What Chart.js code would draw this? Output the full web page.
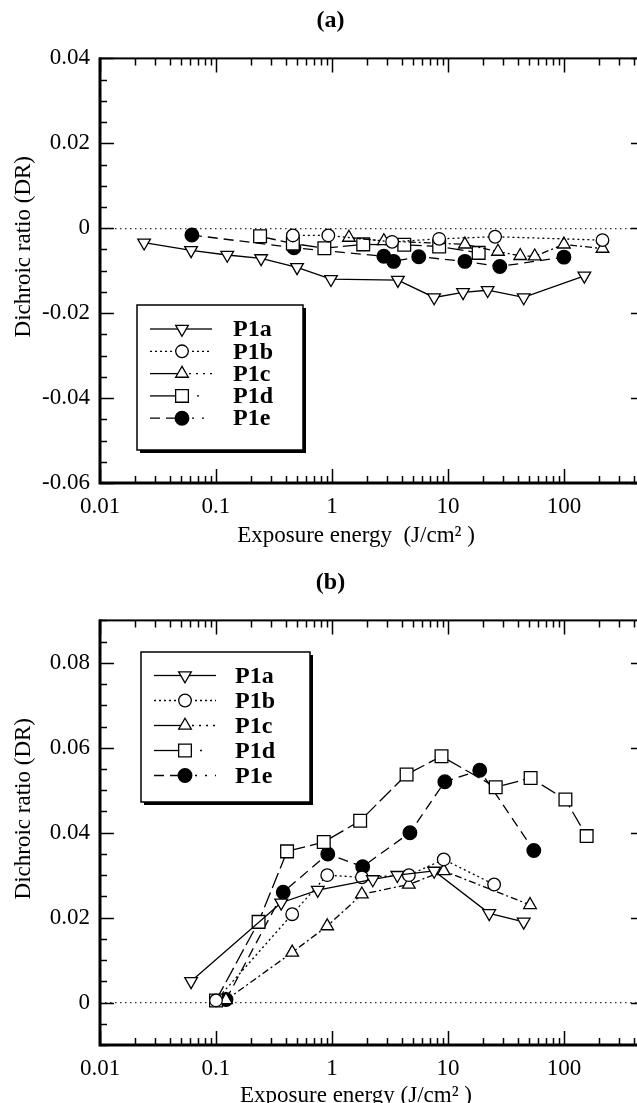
<!DOCTYPE html>
<html>
<head>
<meta charset="utf-8">
<script src="https://cdn.jsdelivr.net/npm/chart.js@4/dist/chart.umd.min.js"></script>
<style>
  html, body { margin: 0; padding: 0; background: #fff; overflow: hidden; width: 637px; height: 1103px; }
  .panel { position: absolute; left: 0; width: 660px; height: 560px; }
  #panelA { top: 0; }
  #panelB { top: 562px; }
</style>
</head>
<body>
<div class="panel" id="panelA"><canvas id="chartA"></canvas></div>
<div class="panel" id="panelB"><canvas id="chartB"></canvas></div>
<script>
// ---- data, panel (a) ----
const seriesNames = ["P1a", "P1b", "P1c", "P1d", "P1e"];

const a_P1a_x = [0.024, 0.061, 0.125, 0.245, 0.5, 0.98, 3.7, 7.6, 13.5, 22, 45, 150];
const a_P1a_y = [-0.0034, -0.0052, -0.0063, -0.0071, -0.0092, -0.012, -0.0122, -0.0163, -0.0151, -0.0146, -0.0163, -0.0112];
const a_P1b_x = [0.46, 0.93, 3.3, 8.4, 25.5, 215];
const a_P1b_y = [-0.0017, -0.0017, -0.0032, -0.0025, -0.002, -0.0028];
const a_P1c_x = [1.4, 2.8, 14, 27, 42, 56, 100, 215];
const a_P1c_y = [-0.0022, -0.003, -0.0038, -0.0055, -0.0065, -0.0066, -0.0038, -0.0048];
const a_P1d_x = [0.24, 0.46, 0.86, 1.86, 4.2, 8.4, 18.4];
const a_P1d_y = [-0.0019, -0.0036, -0.0047, -0.0038, -0.0039, -0.0043, -0.0058];
const a_P1e_x = [0.062, 0.47, 2.8, 3.4, 5.6, 14, 28, 100];
const a_P1e_y = [-0.0016, -0.0046, -0.0066, -0.0078, -0.0067, -0.0078, -0.009, -0.0068];

// ---- data, panel (b) ----
const b_P1a_x = [0.061, 0.365, 0.755, 2.25, 3.66, 7.6, 22.7, 45];
const b_P1a_y = [0.005, 0.0235, 0.0265, 0.029, 0.03, 0.031, 0.021, 0.019];
const b_P1b_x = [0.1, 0.454, 0.91, 1.81, 4.6, 9.2, 25];
const b_P1b_y = [0.0005, 0.0208, 0.03, 0.0295, 0.03, 0.0337, 0.0278];
const b_P1c_x = [0.122, 0.454, 0.91, 1.81, 4.6, 9.2, 51];
const b_P1c_y = [0.0006, 0.0118, 0.018, 0.0255, 0.0278, 0.031, 0.023];
const b_P1d_x = [0.1, 0.233, 0.41, 0.85, 1.75, 4.4, 8.8, 25.8, 51.6, 103, 157];
const b_P1d_y = [0.0005, 0.019, 0.0356, 0.0378, 0.0428, 0.0537, 0.058, 0.0507, 0.0529, 0.0478, 0.0392];
const b_P1e_x = [0.122, 0.38, 0.92, 1.84, 4.7, 9.4, 18.8, 55];
const b_P1e_y = [0.0007, 0.026, 0.035, 0.032, 0.04, 0.052, 0.0547, 0.0358];

// ---- axes ----
const xTickVals = [0.01, 0.1, 1, 10, 100];
const xTickLabels = ["0.01", "0.1", "1", "10", "100"];
const yTickValsA = [0.04, 0.02, 0, -0.02, -0.04, -0.06];
const yTickLabelsA = ["0.04", "0.02", "0", "-0.02", "-0.04", "-0.06"];
const yTickValsB = [0.08, 0.06, 0.04, 0.02, 0];
const yTickLabelsB = ["0.08", "0.06", "0.04", "0.02", "0"];
const yTitle = "Dichroic ratio (DR)";

const SERIF = "'Liberation Serif', 'Times New Roman', serif";
Chart.defaults.font.family = SERIF;
Chart.defaults.color = "#000";

const styles = [
  { pointStyle: "triangle", rotation: 180, radius: 7.3, fill: "#fff", dash: [], legendDash: [[], []] },
  { pointStyle: "circle", rotation: 0, radius: 6.3, fill: "#fff", dash: [2, 3], legendDash: [[2, 3], [2, 3]] },
  { pointStyle: "triangle", rotation: 0, radius: 7.3, fill: "#fff", dash: [7, 3, 2, 3], legendDash: [[], [2, 5]] },
  { pointStyle: "rect", rotation: 0, radius: 9, fill: "#fff", dash: [16, 5], legendDash: [[], [7, 8, 2, 20]] },
  { pointStyle: "circle", rotation: 0, radius: 6.8, fill: "#000", dash: [10, 6], legendDash: [[10, 6], [2, 8]] }
];

function makeDatasets(xs, ys) {
  return xs.map((xArr, k) => ({
    label: seriesNames[k],
    data: xArr.map((x, i) => ({ x: x, y: ys[k][i] })),
    showLine: true,
    borderColor: "#000",
    borderWidth: 1.3,
    borderDash: styles[k].dash,
    pointStyle: styles[k].pointStyle,
    pointRotation: styles[k].rotation,
    pointRadius: styles[k].radius,
    pointBackgroundColor: styles[k].fill,
    pointBorderColor: "#000",
    pointBorderWidth: 1.3
  }));
}

// frame with inward ticks on all four sides, plus axis titles
const frameTicks = {
  id: "frameTicks",
  afterDatasetsDraw(chart, args, o) {
    const ctx = chart.ctx;
    const a = chart.chartArea;
    const xs = chart.scales.x, ys = chart.scales.y;
    ctx.save();
    ctx.strokeStyle = "#000";
    ctx.setLineDash([]);
    ctx.lineWidth = 2;
    ctx.strokeRect(a.left, a.top, a.right - a.left, a.bottom - a.top);
    ctx.lineWidth = 3;
    ctx.beginPath();
    ctx.moveTo(a.left, a.top - 1);
    ctx.lineTo(a.left, a.bottom);
    ctx.lineTo(a.right + 1, a.bottom);
    ctx.stroke();
    ctx.lineWidth = 1.5;
    ctx.beginPath();
    const n = Math.round((ys.max - ys.min) / 0.005);
    for (let i = 0; i <= n; i++) {
      const v = ys.min + i * 0.005;
      const major = Math.abs(v / 0.02 - Math.round(v / 0.02)) < 1e-6;
      const len = major ? 14 : 7;
      const py = Math.round(ys.getPixelForValue(v)) + 0.5;
      ctx.moveTo(a.left, py); ctx.lineTo(a.left + len, py);
      ctx.moveTo(a.right, py); ctx.lineTo(a.right - len, py);
    }
    for (let d = -2; d <= 2; d++) {
      for (let k = 1; k <= 9; k++) {
        const v = k * Math.pow(10, d);
        if (v > xs.max * 1.0001) break;
        const len = k === 1 ? 14 : 7;
        const px = Math.round(xs.getPixelForValue(v)) + 0.5;
        ctx.moveTo(px, a.bottom); ctx.lineTo(px, a.bottom - len);
        ctx.moveTo(px, a.top); ctx.lineTo(px, a.top + len);
      }
    }
    ctx.stroke();

    // axis titles
    ctx.fillStyle = "#000";
    ctx.font = "23px " + SERIF;
    ctx.textAlign = "center";
    ctx.textBaseline = "middle";
    ctx.fillText(o.xTitle, a.left + 256, a.bottom + o.xTitleDy);
    ctx.translate(24, (a.top + a.bottom) / 2 - 24);
    ctx.rotate(-Math.PI / 2);
    ctx.fillText(yTitle, 0, 0);
    ctx.restore();
  }
};

// boxed legend with drop shadow, drawn inside the plot
const boxLegend = {
  id: "boxLegend",
  afterDraw(chart, args, o) {
    const ctx = chart.ctx;
    ctx.save();
    ctx.fillStyle = "#000";
    ctx.fillRect(o.x + 3, o.y + 3, o.w, o.h);
    ctx.fillStyle = "#fff";
    ctx.fillRect(o.x, o.y, o.w, o.h);
    ctx.lineWidth = 1.5;
    ctx.strokeStyle = "#000";
    ctx.strokeRect(o.x, o.y, o.w, o.h);
    chart.data.datasets.forEach((ds, k) => {
      const y = o.rowY + k * o.rowStep;
      const st = styles[k];
      ctx.lineWidth = 1.3;
      ctx.setLineDash(st.legendDash[0]);
      ctx.beginPath(); ctx.moveTo(o.lineX0, y); ctx.lineTo(o.markX, y); ctx.stroke();
      ctx.setLineDash(st.legendDash[1]);
      ctx.beginPath(); ctx.moveTo(o.markX, y); ctx.lineTo(o.lineX1, y); ctx.stroke();
      ctx.setLineDash([]);
      ctx.fillStyle = st.fill;
      ctx.strokeStyle = "#000";
      Chart.helpers.drawPoint(ctx, { pointStyle: st.pointStyle, rotation: st.rotation, radius: st.radius, borderWidth: 1.3 }, o.markX, y);
      ctx.fillStyle = "#000";
      ctx.font = "bold 24px " + SERIF;
      ctx.textBaseline = "middle";
      ctx.textAlign = "left";
      ctx.fillText(ds.label, o.textX, y + 1);
    });
    ctx.restore();
  }
};

function makeChart(id, title, xTitle, xTitleDy, yMin, yMax, yVals, yLabels, datasets, legendOpts) {
  return new Chart(document.getElementById(id), {
    type: "scatter",
    data: { datasets: datasets },
    plugins: [frameTicks, boxLegend],
    options: {
      responsive: true,
      maintainAspectRatio: false,
      animation: false,
      layout: { padding: { left: 16, right: 15, top: 0, bottom: 0 } },
      plugins: {
        legend: { display: false },
        tooltip: { enabled: false },
        title: {
          display: true,
          text: title,
          color: "#000",
          font: { size: 24, weight: "bold" },
          padding: { top: 6, bottom: 23.6 }
        },
        frameTicks: { xTitle: xTitle, xTitleDy: xTitleDy },
        boxLegend: legendOpts
      },
      scales: {
        x: {
          type: "logarithmic",
          min: 0.01,
          max: 500,
          afterBuildTicks: (s) => { s.ticks = xTickVals.map((v) => ({ value: v, major: true })); },
          afterFit: (s) => { s.height = 77; },
          grid: { display: false, drawTicks: false },
          border: { display: false },
          ticks: {
            autoSkip: false,
            maxRotation: 0,
            padding: 10,
            font: { size: 23 },
            callback: (v) => xTickLabels[xTickVals.indexOf(v)] ?? ""
          }
        },
        y: {
          min: yMin,
          max: yMax,
          afterBuildTicks: (s) => { s.ticks = yVals.map((v) => ({ value: v })); },
          afterFit: (s) => { s.width = 84; },
          grid: {
            drawTicks: false,
            lineWidth: 1.2,
            color: (c) => (c.tick && Math.abs(c.tick.value) < 1e-9 ? "#333" : "rgba(0,0,0,0)")
          },
          border: { display: false, dash: [1.5, 3.5] },
          ticks: {
            padding: 10,
            font: { size: 23 },
            callback: (v) => { const i = yVals.findIndex((t) => Math.abs(t - v) < 1e-9); return i >= 0 ? yLabels[i] : ""; }
          }
        }
      }
    }
  });
}

makeChart("chartA", "(a)", "Exposure energy  (J/cm² )", 53, -0.06, 0.04, yTickValsA, yTickLabelsA,
  makeDatasets([a_P1a_x, a_P1b_x, a_P1c_x, a_P1d_x, a_P1e_x], [a_P1a_y, a_P1b_y, a_P1c_y, a_P1d_y, a_P1e_y]),
  { x: 137, y: 305, w: 166, h: 145, rowY: 329, rowStep: 22.3, lineX0: 150, lineX1: 212, markX: 182, textX: 233 });

makeChart("chartB", "(b)", "Exposure energy (J/cm² )", 51, -0.01, 0.09, yTickValsB, yTickLabelsB,
  makeDatasets([b_P1a_x, b_P1b_x, b_P1c_x, b_P1d_x, b_P1e_x], [b_P1a_y, b_P1b_y, b_P1c_y, b_P1d_y, b_P1e_y]),
  { x: 141, y: 90, w: 169, h: 150, rowY: 113.5, rowStep: 25, lineX0: 154, lineX1: 216, markX: 185, textX: 235 });
</script>
</body>
</html>
